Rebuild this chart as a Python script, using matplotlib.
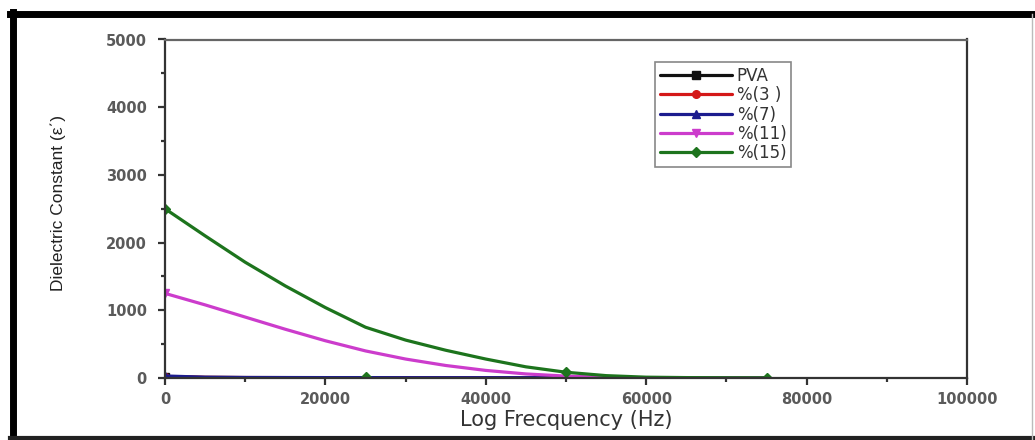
import matplotlib
matplotlib.use("Agg")
import matplotlib.pyplot as plt
from matplotlib.lines import Line2D
from matplotlib.ticker import MultipleLocator

# ---- data ----
freq = [0, 5000, 10000, 15000, 20000, 25000, 30000, 35000, 40000,
        45000, 50000, 55000, 60000, 65000, 70000, 75000]
pva = [18, 8, 6, 5, 5, 4, 4, 4, 4, 3, 3, 3, 3, 3, 3, 3]
pct3 = [22, 10, 7, 6, 5, 5, 5, 4, 4, 4, 4, 3, 3, 3, 3, 3]
pct7 = [30, 12, 8, 7, 6, 6, 5, 5, 5, 5, 4, 4, 4, 4, 4, 4]
pct11 = [1250, 1080, 900, 720, 550, 400, 280, 185, 112, 60, 28, 10, 4, 3, 3, 3]
pct15 = [2500, 2100, 1710, 1360, 1040, 750, 560, 410, 280, 165, 85, 35, 12, 6, 4, 3]
pct15_extra_x = [25000]
pct15_extra_y = [12]

labels = ["PVA", "%(3 )", "%(7)", "%(11)", "%(15)"]
series = [pva, pct3, pct7, pct11, pct15]
colors = ["#111111", "#d41818", "#1c1c8e", "#cc3ccc", "#1d741d"]
markers = ["s", "o", "^", "v", "D"]
mark_idx = [[0], [0], [0], [0], [0, 10, 15]]

xticks = [0, 20000, 40000, 60000, 80000, 100000]
yticks = [0, 1000, 2000, 3000, 4000, 5000]

W, H = 1035, 440
fig = plt.figure(figsize=(W / 100, H / 100), dpi=100)
ax = fig.add_axes([165 / W, 1 - 378 / H, (967 - 165) / W, (378 - 39.5) / H])

for ys, c, m, lab, mi in zip(series, colors, markers, labels, mark_idx):
    ax.plot(freq, ys, color=c, lw=2.3, marker=m, ms=5.5, markevery=mi,
            label=lab, solid_joinstyle="round", solid_capstyle="round")
ax.plot(pct15_extra_x, pct15_extra_y, ls="none", marker="D", ms=5, color=colors[4])

ax.set_xlim(0, 100000)
ax.set_ylim(0, 5000)
ax.set_xticks(xticks)
ax.set_yticks(yticks)
ax.xaxis.set_minor_locator(MultipleLocator(10000))
ax.yaxis.set_minor_locator(MultipleLocator(500))
ax.tick_params(which="major", direction="out", length=5, width=1.6, color="#333333",
               labelsize=10.5, labelcolor="#5a5a5a")
ax.tick_params(axis="y", which="major", pad=8)
ax.tick_params(axis="x", which="major", pad=5)
ax.tick_params(which="minor", direction="out", length=3, width=1.6, color="#333333")
for lbl in ax.get_xticklabels() + ax.get_yticklabels():
    lbl.set_fontweight("bold")
for s in ax.spines.values():
    s.set_linewidth(1.6)
    s.set_color("#333333")
ax.spines["top"].set_color("#666666")

ax.set_xlabel("Log Frecquency (Hz)", fontsize=15, color="#333333",
              family=["DejaVu Sans"])
ax.xaxis.set_label_coords(0.5, (378 - 410) / 338.5)
ax.set_ylabel("Dielectric Constant (ε΄)", fontsize=12.5, color="#222222",
              family=["Liberation Sans", "DejaVu Sans"])
ax.yaxis.set_label_coords((66 - 165) / 802, (378 - 202.5) / 338.5)

leg = ax.legend(loc="upper left", bbox_to_anchor=((655 - 165) / 802, 1 - (62 - 39.5) / 338.5),
                borderaxespad=0, handlelength=4.3, handletextpad=0.3,
                labelspacing=0.08, numpoints=1, fancybox=False, framealpha=1,
                borderpad=0.3, prop={"family": "DejaVu Sans", "size": 12})
leg.get_frame().set_edgecolor("#888888")
leg.get_frame().set_linewidth(1.2)
for t in leg.get_texts():
    t.set_color("#333333")

# outer picture frame
fig.add_artist(Line2D([13 / W, 13 / W], [0, 1 - 12 / H], color="black", lw=5, transform=fig.transFigure))
fig.add_artist(Line2D([10 / W, 1], [1 - 14.5 / H, 1 - 14.5 / H], color="black", lw=5, transform=fig.transFigure))
fig.add_artist(Line2D([10 / W, 1], [2.5 / H, 2.5 / H], color="#222222", lw=3, transform=fig.transFigure))
fig.add_artist(Line2D([1032 / W, 1032 / W], [0, 1 - 14 / H], color="#bbbbbb", lw=1, transform=fig.transFigure))

fig.savefig("out.png", dpi=100)
